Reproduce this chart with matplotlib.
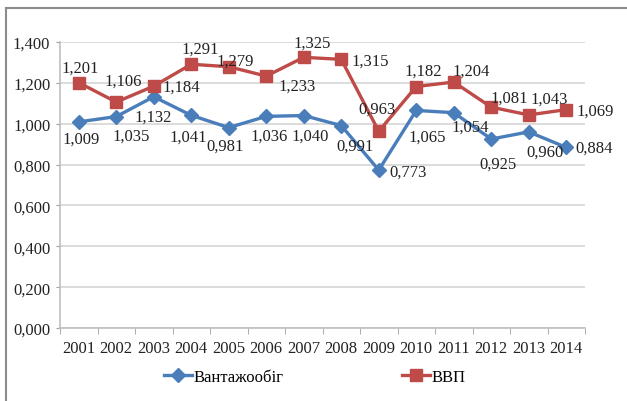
import matplotlib
matplotlib.use('Agg')
import matplotlib.pyplot as plt
from matplotlib.lines import Line2D

years = ['2001', '2002', '2003', '2004', '2005', '2006', '2007',
         '2008', '2009', '2010', '2011', '2012', '2013', '2014']
freight = [1.009, 1.035, 1.132, 1.041, 0.981, 1.036, 1.040,
           0.991, 0.773, 1.065, 1.054, 0.925, 0.960, 0.884]
gdp = [1.201, 1.106, 1.184, 1.291, 1.279, 1.233, 1.325,
       1.315, 0.963, 1.182, 1.204, 1.081, 1.043, 1.069]

# label offsets in pixels (dx, dy), hand placed like in the source chart
freight_off = [(2, -17), (15, -19), (-1, -20), (-3, -21), (-4, -18), (3, -19), (6, -20),
               (14, -20), (29, -2), (11, -26), (16, -14), (7, -25), (16, -20), (28, 0)]
gdp_off = [(1, 15), (7, 21), (28, -1), (9, 16), (6, 6), (31, -10), (8, 15),
           (29, -1), (-2, 23), (7, 16), (17, 11), (18, 10), (20, 16), (29, -1)]

plt.rcParams['font.family'] = ['Liberation Serif', 'DejaVu Serif']
plt.rcParams['font.size'] = 12

BLUE = '#4A7EBB'
RED = '#BE4B48'


def fmt(v):
    return f'{v:.3f}'.replace('.', ',')


fig = plt.figure(figsize=(6.27, 4.02), dpi=100)
ax = fig.add_axes([60 / 627, 1 - 329 / 402, 525 / 627, 286 / 402])

x = list(range(len(years)))
ax.plot(x, freight, color=BLUE, lw=2.4, marker='D', ms=7, label='Вантажообіг', zorder=3)
ax.plot(x, gdp, color=RED, lw=2.4, marker='s', ms=8.5, label='ВВП', zorder=3)

for xi, v, (dx, dy) in zip(x, freight, freight_off):
    ax.annotate(fmt(v), (xi, v), xytext=(dx, dy), textcoords='offset pixels',
                ha='center', va='center', fontsize=12, color='#222222', zorder=4)
for xi, v, (dx, dy) in zip(x, gdp, gdp_off):
    ax.annotate(fmt(v), (xi, v), xytext=(dx, dy), textcoords='offset pixels',
                ha='center', va='center', fontsize=12, color='#222222', zorder=4)

ax.set_xlim(-0.5, len(years) - 0.5)
ax.set_ylim(0, 1.4)
ax.set_yticks([0, 0.2, 0.4, 0.6, 0.8, 1.0, 1.2, 1.4])
ax.set_yticklabels([fmt(t) for t in ax.get_yticks()])
ax.set_xticks(x)
ax.set_xticklabels(years)
ax.set_xticks([i - 0.5 for i in range(len(years) + 1)], minor=True)
ax.tick_params(axis='x', which='major', length=0, pad=9, colors='#222222')
ax.tick_params(axis='x', which='minor', length=4, color='#a0a0a0', direction='out')
ax.tick_params(axis='y', length=3, pad=4, colors='#222222')
ax.tick_params(axis='y', color='#a0a0a0')

ax.grid(axis='y', color='#d9d9d9', lw=1.3)
ax.set_axisbelow(True)
for s in ['top', 'right']:
    ax.spines[s].set_visible(False)
for s in ['left', 'bottom']:
    ax.spines[s].set_color('#bfbfbf')
    ax.spines[s].set_linewidth(1.2)

fig.legend(loc='center', bbox_to_anchor=(0.502, 1 - 378 / 402), ncol=2, frameon=False,
           handlelength=1.7, handletextpad=0.1, columnspacing=7.1, fontsize=12)

# outer chart frame (left and top edges only are visible in the crop)
fig.add_artist(Line2D([6 / 627, 6 / 627], [0, 1 - 9 / 402], color='#8c8c8c', lw=1.5))
fig.add_artist(Line2D([6 / 627, 1], [1 - 9 / 402, 1 - 9 / 402], color='#8c8c8c', lw=1.5))

fig.savefig('out.png', dpi=100)
